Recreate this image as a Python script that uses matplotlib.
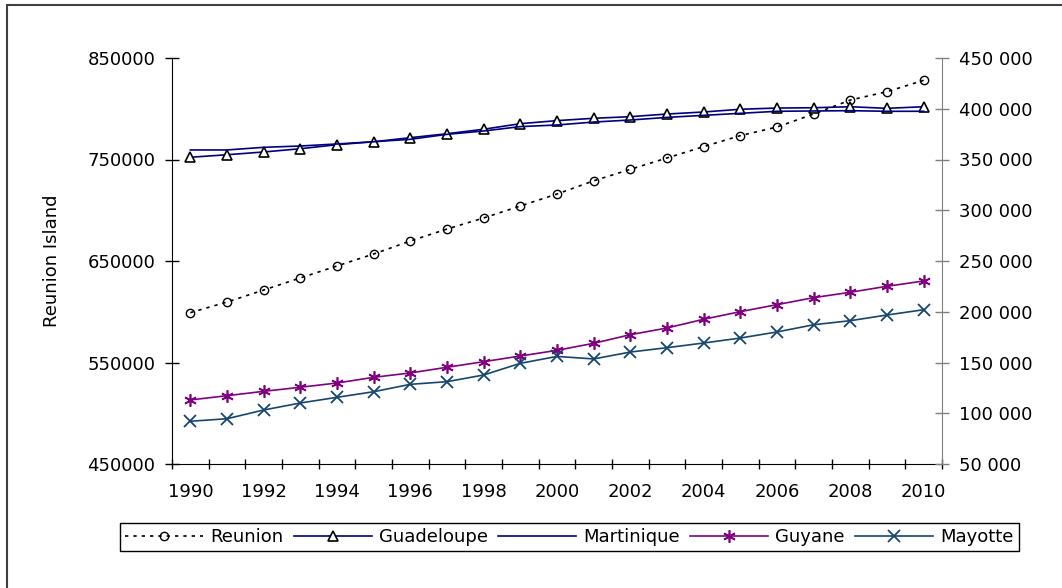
import matplotlib
matplotlib.use("Agg")
import matplotlib.pyplot as plt
import matplotlib.patches as mpatches
from matplotlib.ticker import FuncFormatter, MultipleLocator, FixedLocator

years = list(range(1990, 2011))
reunion = [599100, 609600, 621400, 633300, 645100, 656900, 669700, 681500, 692400,
           704200, 716000, 729000, 740300, 751500, 762700, 773500, 782000, 794800,
           808600, 816800, 828000]
guadeloupe = [352200, 354700, 357400, 360600, 364600, 367500, 371500, 375400, 379800,
              385300, 388300, 390600, 392200, 394800, 396800, 399500, 400700, 401000,
              402000, 400400, 402000]
martinique = [359400, 359400, 362000, 363300, 365300, 367500, 369900, 374800, 378100,
              382400, 384000, 386900, 388900, 391500, 393500, 395500, 397500, 397800,
              398100, 397500, 397500]
guyane = [113100, 117300, 121600, 125600, 129800, 135400, 139700, 145300, 150800,
          156400, 162000, 168900, 177400, 184000, 192600, 200100, 207000, 213900,
          219200, 225100, 230300]
mayotte = [92100, 94600, 103200, 110100, 115700, 121200, 128500, 131100, 137700,
           149200, 156000, 153500, 160300, 164600, 169200, 174100, 180100, 187200,
           191200, 196800, 202000]
left_ticks = [450000, 550000, 650000, 750000, 850000]

plt.rcParams['font.family'] = ['DejaVu Sans']
plt.rcParams['font.size'] = 13

fig = plt.figure(figsize=(10.62, 5.88), dpi=100)
ax = fig.add_axes([172 / 1062, 1 - 464 / 588, 770 / 1062, 406 / 588])
ax2 = ax.twinx()

x = list(range(len(years)))

l1, = ax.plot(x, reunion, color='black', lw=1.2, linestyle=(0, (2, 3)),
              marker='o', ms=6, mfc='none', mec='black', mew=1.0, label='Reunion')
l2, = ax2.plot(x, guadeloupe, color='#000080', lw=1.2, marker='^', ms=7,
               mfc='white', mec='black', mew=1.2, label='Guadeloupe')
l3, = ax2.plot(x, martinique, color='#000080', lw=1.2, label='Martinique')
l4, = ax2.plot(x, guyane, color='#800080', lw=1.2, marker=(6, 2, 0), ms=9,
               mec='#800080', mew=1.2, label='Guyane')
l5, = ax2.plot(x, mayotte, color='#16466f', lw=1.2, marker='x', ms=8,
               mec='#16466f', mew=1.3, label='Mayotte')

ax.set_xlim(-0.5, len(years) - 0.5)
ax.set_ylim(left_ticks[0], left_ticks[-1])
ax2.set_ylim(50000, 450000)

ax.yaxis.set_major_locator(FixedLocator(left_ticks))
ax2.yaxis.set_major_locator(MultipleLocator(50000))
ax2.yaxis.set_major_formatter(FuncFormatter(lambda v, p: f"{int(v):,}".replace(",", " ")))

ax.xaxis.set_major_locator(FixedLocator(x[::2]))
ax.set_xticklabels([str(y) for y in years[::2]])
ax.xaxis.set_minor_locator(FixedLocator([i - 0.5 for i in range(len(years) + 1)]))
ax.tick_params(axis='x', which='major', length=0, pad=14)
ax.tick_params(axis='x', which='minor', direction='inout', length=7.5, width=1)
ax.tick_params(axis='y', direction='inout', length=10, width=1, pad=7)
ax2.tick_params(axis='y', direction='inout', length=10.5, width=1, pad=7, color='#808080')

for a in (ax, ax2):
    a.spines['top'].set_visible(False)
ax.spines['right'].set_visible(False)
ax2.spines['left'].set_visible(False)
ax2.spines['bottom'].set_visible(False)
ax2.spines['right'].set_color('#808080')

fig.text(52 / 1062, 1 - 261 / 588, 'Reunion Island', rotation=90, ha='center', va='center')

leg = fig.legend(handles=[l1, l2, l3, l4, l5], loc='center', ncol=5, mode='expand',
                 bbox_to_anchor=(120 / 1062, 1 - 553 / 588, 899 / 1062, 32 / 588),
                 borderaxespad=0, handlelength=4.3, handletextpad=0.4,
                 columnspacing=0.6, fancybox=False, edgecolor='black',
                 framealpha=1, borderpad=0.3)
leg.get_frame().set_linewidth(1.0)

# outer chart border (only left and top edges visible in the picture)
fig.patches.append(mpatches.Rectangle((7 / 1062, -0.1), 2, 1.1 - 5 / 588, fill=False,
                                      transform=fig.transFigure, ec='#404040', lw=1.5))

fig.savefig('out.png', dpi=100)
